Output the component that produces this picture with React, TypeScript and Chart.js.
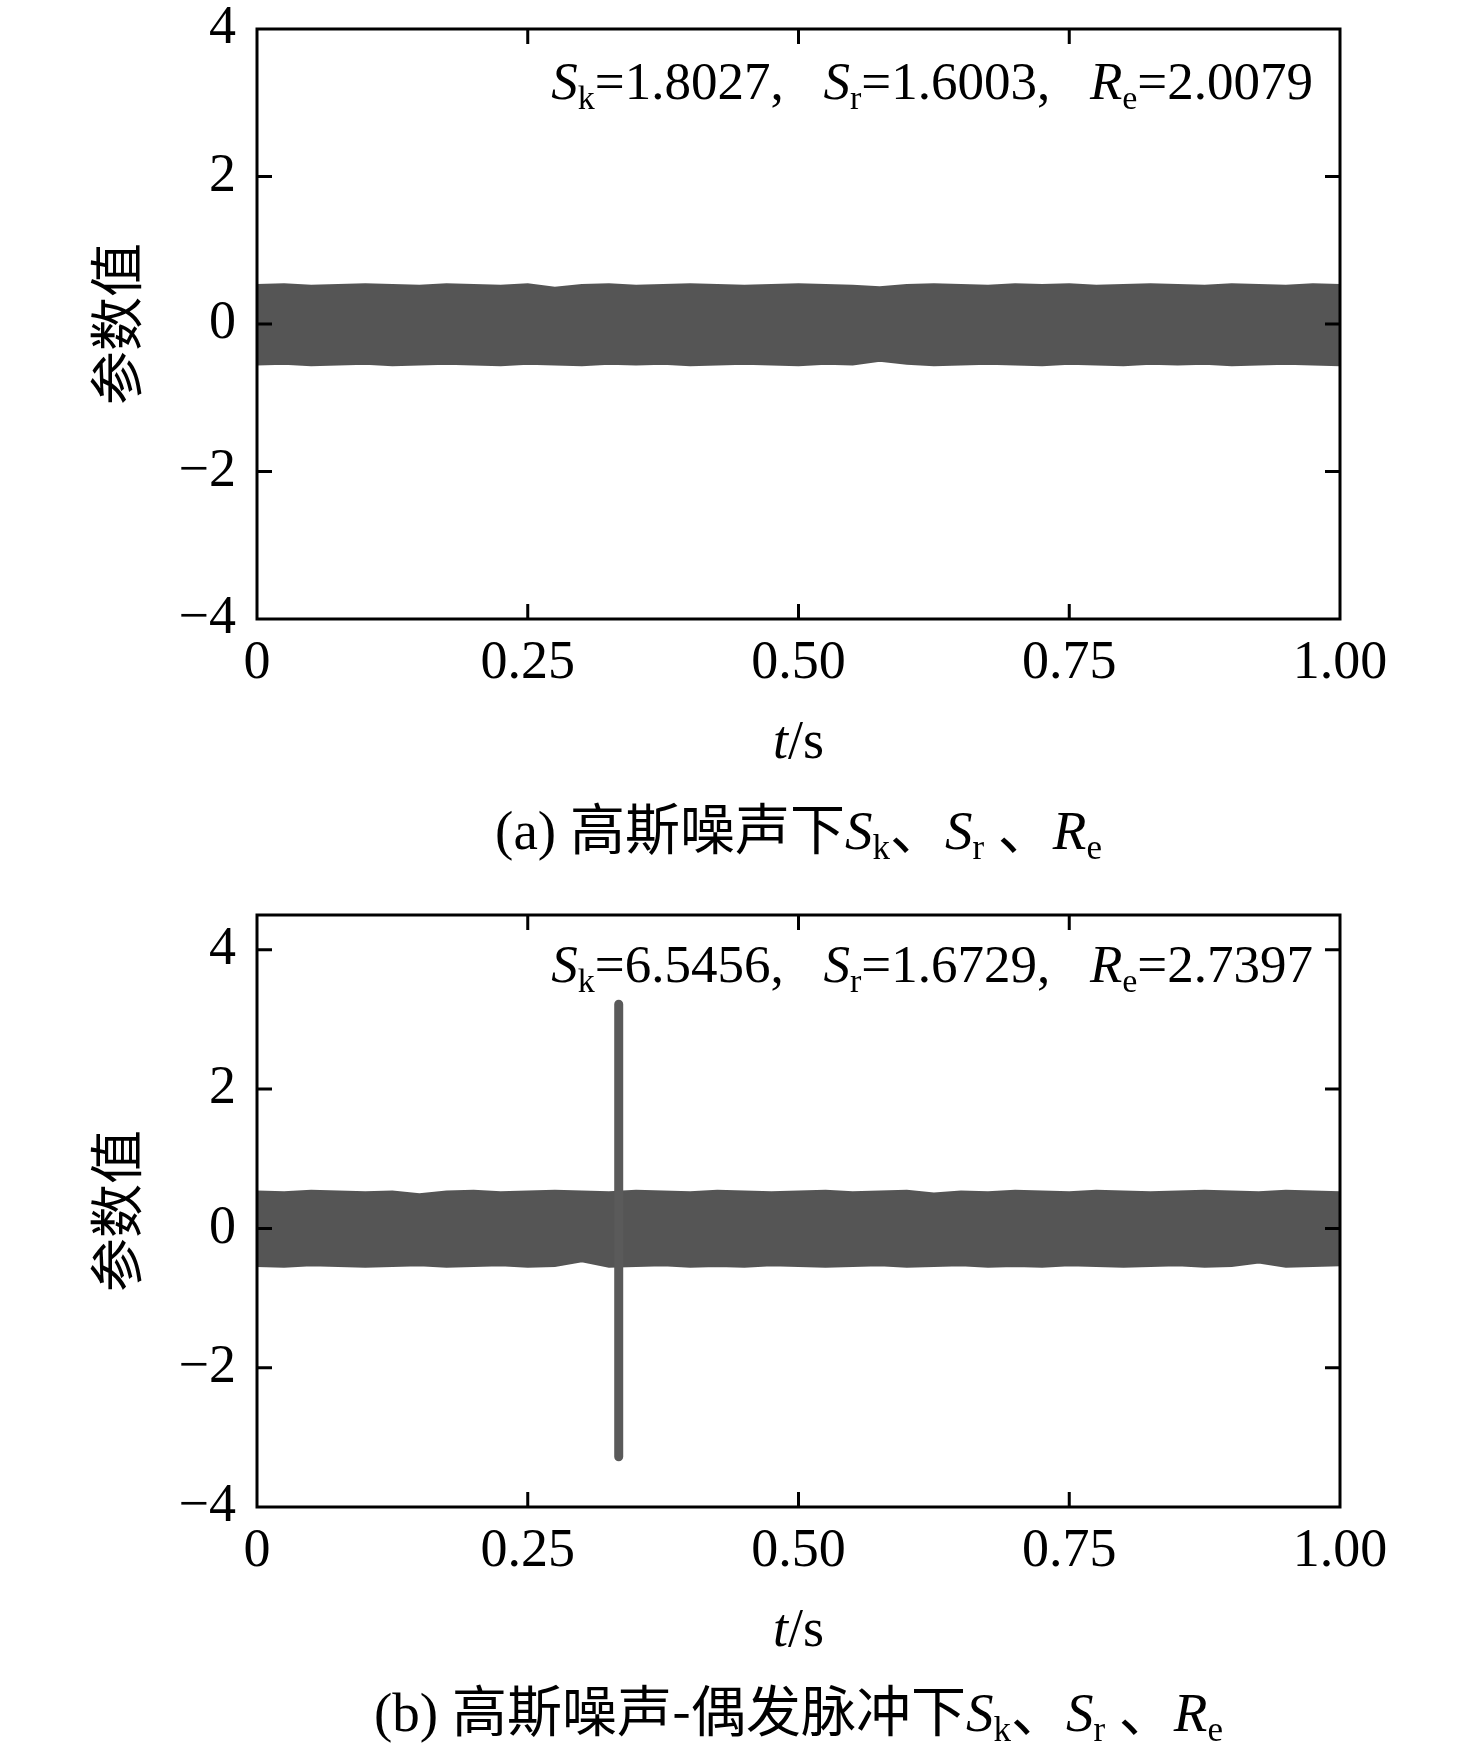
import { useEffect, useRef } from 'react';
import { Chart, registerables } from 'chart.js';

Chart.register(...registerables);

// time axis samples (s) and band envelopes
const timeSteps = [
  0, 0.025, 0.05, 0.075, 0.1, 0.125, 0.15, 0.175, 0.2, 0.225, 0.25, 0.275, 0.3, 0.325, 0.35,
  0.375, 0.4, 0.425, 0.45, 0.475, 0.5, 0.525, 0.55, 0.575, 0.6, 0.625, 0.65, 0.675, 0.7,
  0.725, 0.75, 0.775, 0.8, 0.825, 0.85, 0.875, 0.9, 0.925, 0.95, 0.975, 1,
];

// (a) gaussian noise
const upperA = [
  0.53, 0.54, 0.52, 0.53, 0.54, 0.53, 0.52, 0.54, 0.53, 0.52, 0.54, 0.49, 0.53, 0.54, 0.52,
  0.53, 0.54, 0.53, 0.52, 0.53, 0.54, 0.53, 0.52, 0.5, 0.53, 0.54, 0.53, 0.52, 0.54,
  0.53, 0.54, 0.52, 0.53, 0.54, 0.53, 0.52, 0.54, 0.53, 0.52, 0.54, 0.53,
];
const lowerA = [
  -0.55, -0.54, -0.56, -0.55, -0.54, -0.56, -0.55, -0.54, -0.55, -0.56, -0.54, -0.55, -0.56, -0.54, -0.55,
  -0.54, -0.56, -0.55, -0.54, -0.55, -0.56, -0.54, -0.55, -0.5, -0.54, -0.56, -0.55, -0.54, -0.55,
  -0.56, -0.54, -0.55, -0.56, -0.54, -0.55, -0.54, -0.56, -0.55, -0.54, -0.55, -0.56,
];

// (b) gaussian noise + one impulse
const upperB = [
  0.53, 0.52, 0.54, 0.53, 0.52, 0.53, 0.49, 0.53, 0.54, 0.52, 0.53, 0.54, 0.53, 0.52, 0.54,
  0.53, 0.52, 0.54, 0.53, 0.52, 0.53, 0.54, 0.52, 0.53, 0.54, 0.5, 0.53, 0.52, 0.54,
  0.53, 0.52, 0.54, 0.53, 0.52, 0.53, 0.54, 0.53, 0.52, 0.54, 0.53, 0.52,
];
const lowerB = [
  -0.54, -0.55, -0.53, -0.54, -0.55, -0.54, -0.53, -0.55, -0.54, -0.53, -0.55, -0.54, -0.47, -0.55, -0.54,
  -0.53, -0.55, -0.54, -0.55, -0.53, -0.54, -0.55, -0.54, -0.53, -0.55, -0.54, -0.53, -0.55, -0.54,
  -0.55, -0.53, -0.54, -0.55, -0.54, -0.53, -0.55, -0.54, -0.49, -0.55, -0.54, -0.53,
];
const spikeTime = [0.334, 0.334];
const spikeValue = [3.22, -3.28];

const xTicks = [0, 0.25, 0.5, 0.75, 1];
const xTickLabels = ['0', '0.25', '0.50', '0.75', '1.00'];
const yTicks = [-4, -2, 0, 2, 4];
const yTickLabels = ['\u22124', '\u22122', '0', '2', '4'];

type Run = { text: string; style?: 'it' | 'sub' | 'cjk' };

const statsA: Run[] = [
  { text: 'S', style: 'it' }, { text: 'k', style: 'sub' }, { text: '=1.8027,   ' },
  { text: 'S', style: 'it' }, { text: 'r', style: 'sub' }, { text: '=1.6003,   ' },
  { text: 'R', style: 'it' }, { text: 'e', style: 'sub' }, { text: '=2.0079' },
];
const statsB: Run[] = [
  { text: 'S', style: 'it' }, { text: 'k', style: 'sub' }, { text: '=6.5456,   ' },
  { text: 'S', style: 'it' }, { text: 'r', style: 'sub' }, { text: '=1.6729,   ' },
  { text: 'R', style: 'it' }, { text: 'e', style: 'sub' }, { text: '=2.7397' },
];
const xTitle: Run[] = [{ text: 't', style: 'it' }, { text: '/s' }];
const tail: Run[] = [
  { text: 'S', style: 'it' }, { text: 'k', style: 'sub' }, { text: '、', style: 'cjk' },
  { text: 'S', style: 'it' }, { text: 'r', style: 'sub' }, { text: ' ' }, { text: '、', style: 'cjk' },
  { text: 'R', style: 'it' }, { text: 'e', style: 'sub' },
];
const captionA: Run[] = [{ text: '(a) ' }, { text: '高斯噪声下', style: 'cjk' }, ...tail];
const captionB: Run[] = [{ text: '(b) ' }, { text: '高斯噪声-偶发脉冲下', style: 'cjk' }, ...tail];

const SERIF = '"Liberation Serif", "Times New Roman", serif';
const CJK = '"Noto Sans CJK SC", sans-serif';
const BAND = '#555555';
const TICK = 15;

function fontFor(r: Run, size: number) {
  if (r.style === 'it') return `italic ${size}px ${SERIF}`;
  if (r.style === 'sub') return `${Math.round(size * 0.64)}px ${SERIF}`;
  if (r.style === 'cjk') return `${size}px ${CJK}`;
  return `${size}px ${SERIF}`;
}

function drawRich(ctx: CanvasRenderingContext2D, runs: Run[], x: number, y: number, align: string, size: number) {
  ctx.textBaseline = 'alphabetic';
  ctx.textAlign = 'left';
  const widths = runs.map((r) => {
    ctx.font = fontFor(r, size);
    return ctx.measureText(r.text).width;
  });
  const total = widths.reduce((s, w) => s + w, 0);
  let cx = align === 'right' ? x - total : align === 'center' ? x - total / 2 : x;
  runs.forEach((r, i) => {
    ctx.font = fontFor(r, size);
    ctx.fillText(r.text, cx, r.style === 'sub' ? y + size * 0.19 : y);
    cx += widths[i];
  });
}

type PanelProps = {
  top: number;
  height: number;
  areaTop: number;
  areaBottom: number;
  yMax: number;
  upper: number[];
  lower: number[];
  spike?: boolean;
  stats: Run[];
  statsY: number;
  caption: Run[];
  captionY: number;
};

function Panel(p: PanelProps) {
  const canvasRef = useRef<HTMLCanvasElement>(null);

  useEffect(() => {
    if (!canvasRef.current) return;

    const framePlugin = {
      id: 'frame',
      afterDraw(chart: any) {
        const { ctx, chartArea: a, scales } = chart;
        ctx.save();
        ctx.strokeStyle = '#000';
        ctx.lineWidth = 3;
        ctx.strokeRect(a.left, a.top, a.right - a.left, a.bottom - a.top);
        ctx.beginPath();
        for (const t of scales.x.ticks) {
          const px = scales.x.getPixelForValue(t.value);
          if (px - a.left < 3 || a.right - px < 3) continue;
          ctx.moveTo(px, a.bottom);
          ctx.lineTo(px, a.bottom - TICK);
          ctx.moveTo(px, a.top);
          ctx.lineTo(px, a.top + TICK);
        }
        for (const t of scales.y.ticks) {
          const py = scales.y.getPixelForValue(t.value);
          if (py - a.top < 3 || a.bottom - py < 3) continue;
          ctx.moveTo(a.left, py);
          ctx.lineTo(a.left + TICK, py);
          ctx.moveTo(a.right, py);
          ctx.lineTo(a.right - TICK, py);
        }
        ctx.stroke();
        ctx.fillStyle = '#000';
        const mid = (a.left + a.right) / 2;
        drawRich(ctx, p.stats, a.right - 27, a.top + p.statsY, 'right', 53);
        drawRich(ctx, xTitle, mid, a.bottom + 139, 'center', 54);
        drawRich(ctx, p.caption, mid, a.bottom + p.captionY, 'center', 55);
        ctx.restore();
      },
    };

    const datasets: any[] = [
      {
        data: timeSteps.map((t, i) => ({ x: t, y: p.upper[i] })),
        fill: '+1',
        backgroundColor: BAND,
        borderColor: BAND,
        borderWidth: 2,
        pointRadius: 0,
        tension: 0,
        order: 2,
      },
      {
        data: timeSteps.map((t, i) => ({ x: t, y: p.lower[i] })),
        fill: false,
        borderColor: BAND,
        borderWidth: 2,
        pointRadius: 0,
        tension: 0,
        order: 2,
      },
    ];
    if (p.spike) {
      datasets.push({
        data: spikeTime.map((t, i) => ({ x: t, y: spikeValue[i] })),
        fill: false,
        borderColor: '#5a5a5a',
        borderWidth: 9,
        borderCapStyle: 'round',
        pointRadius: 0,
        order: 1,
      });
    }

    const tickFont = { family: SERIF, size: 54, lineHeight: 1 };
    const chart = new Chart(canvasRef.current, {
      type: 'line',
      data: { datasets },
      options: {
        animation: false,
        responsive: true,
        maintainAspectRatio: false,
        layout: { padding: { left: 0, right: 136, top: p.areaTop, bottom: 0 } },
        plugins: { legend: { display: false }, tooltip: { enabled: false } },
        scales: {
          x: {
            type: 'linear',
            min: 0,
            max: 1,
            grid: { display: false, drawTicks: false },
            border: { display: false },
            afterBuildTicks: (s: any) => { s.ticks = xTicks.map((v) => ({ value: v })); },
            afterFit: (s: any) => {
              s.height = p.height - p.areaBottom;
              s.paddingLeft = 0;
              s.paddingRight = 0;
            },
            ticks: {
              font: tickFont,
              color: '#000',
              padding: 18,
              maxRotation: 0,
              callback: (_v: any, i: number) => xTickLabels[i],
            },
          },
          y: {
            type: 'linear',
            min: -4,
            max: p.yMax,
            grid: { display: false, drawTicks: false },
            border: { display: false },
            afterBuildTicks: (s: any) => { s.ticks = yTicks.map((v) => ({ value: v })); },
            afterFit: (s: any) => {
              s.width = 257;
              s.paddingTop = 0;
              s.paddingBottom = 0;
            },
            ticks: {
              font: tickFont,
              color: '#000',
              padding: 21,
              callback: (_v: any, i: number) => yTickLabels[i],
            },
            title: {
              display: true,
              text: '参数值',
              color: '#000',
              font: { family: CJK, size: 54, lineHeight: 1 },
              padding: { top: 89, bottom: 0 },
            },
          },
        },
      },
      plugins: [framePlugin],
    });

    return () => chart.destroy();
  }, []);

  return (
    <div style={{ position: 'absolute', left: 0, top: p.top, width: 1476, height: p.height }}>
      <canvas ref={canvasRef} style={{ display: 'block' }} />
    </div>
  );
}

export default function App() {
  return (
    <div style={{ position: 'absolute', left: 0, top: 0, width: 1476, height: 1757, background: '#fff' }}>
      <Panel
        top={0}
        height={878}
        areaTop={29}
        areaBottom={619}
        yMax={4}
        upper={upperA}
        lower={lowerA}
        stats={statsA}
        statsY={70}
        caption={captionA}
        captionY={230}
      />
      <Panel
        top={878}
        height={879}
        areaTop={37}
        areaBottom={629}
        yMax={4.5}
        upper={upperB}
        lower={lowerB}
        spike
        stats={statsB}
        statsY={67}
        caption={captionB}
        captionY={224}
      />
    </div>
  );
}
